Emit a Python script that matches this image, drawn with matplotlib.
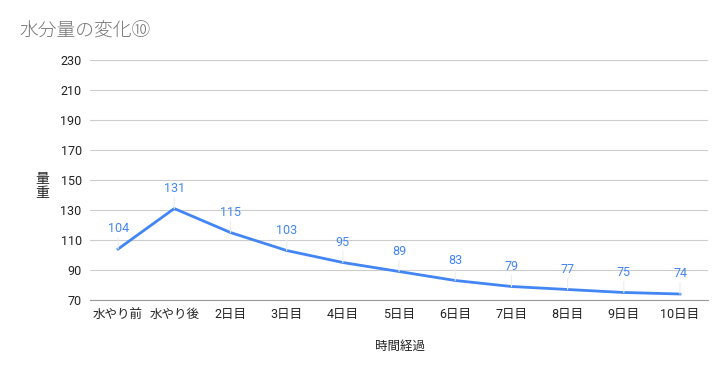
import matplotlib
matplotlib.use('Agg')
import matplotlib.pyplot as plt

plt.rcParams['font.family'] = ['Roboto', 'Noto Sans CJK JP', 'DejaVu Sans']

# Data
categories = ['水やり前', '水やり後', '2日目', '3日目', '4日目', '5日目',
              '6日目', '7日目', '8日目', '9日目', '10日目']
weights = [104, 131, 115, 103, 95, 89, 83, 79, 77, 75, 74]
yticks = [70, 90, 110, 130, 150, 170, 190, 210, 230]

fig = plt.figure(figsize=(7.27, 3.71), dpi=100)
ax = fig.add_axes([0.1238, 0.1914, 0.8502, 0.6466])

x = list(range(len(categories)))
ax.plot(x, weights, color='#4285F4', linewidth=2, zorder=3)

for xi, v in zip(x, weights):
    ax.annotate(str(v), xy=(xi, v), xytext=(0, 10), textcoords='offset points',
                ha='center', va='bottom', fontsize=9, color='#4285F4',
                arrowprops=dict(arrowstyle='-', color='#ededed', lw=0.8,
                                shrinkA=0, shrinkB=0))

ax.set_xlim(-0.5, len(categories) - 0.5)
ax.set_ylim(70, 230)
ax.set_yticks(yticks)
ax.set_xticks(x)
ax.set_xticklabels(categories)
ax.tick_params(axis='both', length=0, labelsize=9, colors='#222222')
ax.tick_params(axis='y', pad=6)
ax.tick_params(axis='x', pad=6)
ax.grid(True, axis='y', color='#cccccc', linewidth=0.8)
ax.set_axisbelow(True)
for s in ['top', 'right', 'left']:
    ax.spines[s].set_visible(False)
ax.spines['bottom'].set_color('#999999')
ax.spines['bottom'].set_linewidth(0.8)

fig.text(0.026, 0.915, '水分量の変化⑩', fontsize=13.5, color='#757575',
         ha='left', va='center', fontweight='light')
fig.text(0.058, 0.50, '量\n重', fontsize=10, color='#222222',
         ha='center', va='center', linespacing=1.0)
fig.text(0.55, 0.067, '時間経過', fontsize=9, color='#222222',
         ha='center', va='center')

fig.savefig('out.png', dpi=100)
